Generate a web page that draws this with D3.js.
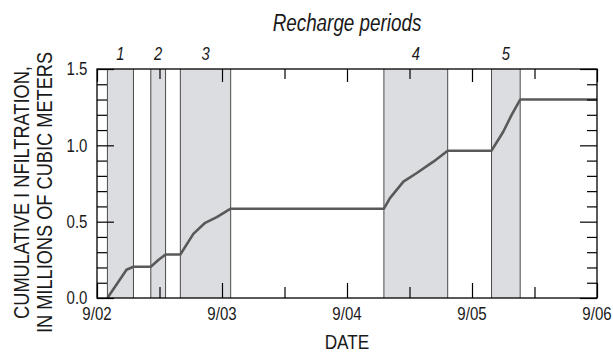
<!DOCTYPE html>
<html>
<head>
<meta charset="utf-8">
<script src="https://cdn.jsdelivr.net/npm/d3@7"></script>
<style>
  html, body { margin: 0; padding: 0; background: #fff; }
  svg { display: block; }
  text { font-family: 'Liberation Sans', Arial, sans-serif; fill: #1a1a1a; }
</style>
</head>
<body>
<svg id="chart" width="613" height="352"></svg>
<script>
// ---- data ----
const periodLabels = ["1", "2", "3", "4", "5"];
const periodStarts = ["2000-09-02 02:00", "2000-09-02 10:20", "2000-09-02 16:00", "2000-09-04 07:05", "2000-09-05 03:45"];
const periodEnds   = ["2000-09-02 07:00", "2000-09-02 13:10", "2000-09-03 01:40", "2000-09-04 19:20", "2000-09-05 09:15"];

const seriesTimes = [
  "2000-09-02 02:00", "2000-09-02 05:40", "2000-09-02 07:00",
  "2000-09-02 10:20", "2000-09-02 11:50", "2000-09-02 13:10",
  "2000-09-02 16:00", "2000-09-02 18:30", "2000-09-02 20:40", "2000-09-02 23:00", "2000-09-03 01:40",
  "2000-09-04 07:05", "2000-09-04 08:15", "2000-09-04 10:50", "2000-09-04 13:20", "2000-09-04 16:35", "2000-09-04 19:20",
  "2000-09-05 03:45", "2000-09-05 06:00", "2000-09-05 07:35", "2000-09-05 09:15",
  "2000-09-06 00:00"
];
const seriesValues = [
  0.00, 0.185, 0.205,
  0.205, 0.25, 0.285,
  0.285, 0.42, 0.49, 0.53, 0.585,
  0.585, 0.654, 0.762, 0.817, 0.893, 0.965,
  0.965, 1.089, 1.198, 1.30,
  1.30
];

const xDomain = ["2000-09-02 00:00", "2000-09-06 00:00"];
const yDomain = [0, 1.5];
const yMajorTicks = [0, 0.5, 1.0, 1.5];
const yTickLabels = ["0.0", "0.5", "1.0", "1.5"];

const title = "Recharge periods";
const xTitle = "DATE";
const yTitleLines = ["CUMULATIVE I NFILTRATION,", "IN MILLIONS OF CUBIC METERS"];

// ---- layout ----
const W = 613, H = 352;
const margin = { left: 97, right: 16, top: 69, bottom: 54 };
const iw = W - margin.left - margin.right;
const ih = H - margin.top - margin.bottom;

const parse = d3.timeParse("%Y-%m-%d %H:%M");
const svg = d3.select("#chart");
const g = svg.append("g").attr("transform", `translate(${margin.left},${margin.top})`);

const x = d3.scaleTime().domain(xDomain.map(parse)).range([0, iw]);
const y = d3.scaleLinear().domain(yDomain).range([ih, 0]);

const periods = periodLabels.map((l, i) => ({ label: l, s: parse(periodStarts[i]), e: parse(periodEnds[i]) }));
const series = seriesTimes.map((t, i) => ({ t: parse(t), v: seriesValues[i] }));

// helper: draw condensed text
function narrowText(parent, tx, ty, str, opts) {
  const rot = opts.rotate ? ` rotate(${opts.rotate})` : "";
  const sx = opts.narrow || 0.82;
  const t = parent.append("text")
    .attr("transform", `translate(${tx},${ty})${rot} scale(${sx},1)`)
    .attr("text-anchor", opts.anchor || "middle")
    .attr("font-size", opts.size)
    .text(str);
  if (opts.italic) t.attr("font-style", "italic");
  if (opts.dy) t.attr("dy", opts.dy);
  return t;
}

// shaded periods
g.selectAll("rect.period").data(periods).join("rect")
  .attr("class", "period")
  .attr("x", d => x(d.s)).attr("y", 0)
  .attr("width", d => x(d.e) - x(d.s)).attr("height", ih)
  .attr("fill", "#dcdde0");

// period borders
const borders = periods.flatMap(d => [d.s, d.e]);
g.selectAll("line.border").data(borders).join("line")
  .attr("class", "border")
  .attr("x1", d => x(d)).attr("x2", d => x(d))
  .attr("y1", 0).attr("y2", ih)
  .attr("stroke", "#4a4a4a").attr("stroke-width", 1);

// series line
g.append("path").datum(series)
  .attr("fill", "none").attr("stroke", "#595959").attr("stroke-width", 2.6)
  .attr("stroke-linejoin", "round")
  .attr("d", d3.line().x(d => x(d.t)).y(d => y(d.v)));

// axes (tick marks only; labels drawn condensed)
const dayTicks = d3.timeDay.range(x.domain()[0], d3.timeDay.offset(x.domain()[1], 1));
const halfDayTicks = d3.timeHour.every(12).range(x.domain()[0], x.domain()[1]).filter(d => d.getHours() === 12);
const fmt = d3.timeFormat("%-m/%d");

function styleAxis(sel) {
  sel.select(".domain").remove();
  sel.selectAll(".tick line").attr("stroke", "#000").attr("stroke-width", 1.2);
  sel.selectAll(".tick text").remove();
}

// bottom
g.append("g").attr("transform", `translate(0,${ih})`)
  .call(d3.axisBottom(x).tickValues(dayTicks).tickFormat("").tickSize(-15))
  .call(styleAxis);
g.append("g").attr("transform", `translate(0,${ih})`)
  .call(d3.axisBottom(x).tickValues(halfDayTicks).tickFormat("").tickSize(-11))
  .call(styleAxis);
// top
g.append("g")
  .call(d3.axisTop(x).tickValues(dayTicks).tickFormat("").tickSize(-13))
  .call(styleAxis);
g.append("g")
  .call(d3.axisTop(x).tickValues(halfDayTicks).tickFormat("").tickSize(-10))
  .call(styleAxis);

const yMinor = d3.range(1, 15).map(i => i / 10).filter(v => Math.abs(v * 2 - Math.round(v * 2)) > 1e-6);
// left
g.append("g")
  .call(d3.axisLeft(y).tickValues(yMajorTicks).tickFormat("").tickSize(-17))
  .call(styleAxis);
g.append("g")
  .call(d3.axisLeft(y).tickValues(yMinor).tickFormat("").tickSize(-10))
  .call(styleAxis);
// right
g.append("g").attr("transform", `translate(${iw},0)`)
  .call(d3.axisRight(y).tickValues(yMajorTicks).tickFormat("").tickSize(-17))
  .call(styleAxis);
g.append("g").attr("transform", `translate(${iw},0)`)
  .call(d3.axisRight(y).tickValues(yMinor).tickFormat("").tickSize(-10))
  .call(styleAxis);

// frame
g.append("rect").attr("x", 0).attr("y", 0).attr("width", iw).attr("height", ih)
  .attr("fill", "none").attr("stroke", "#000").attr("stroke-width", 1.3);

// tick labels
yMajorTicks.forEach((v, i) => {
  narrowText(g, -9.5, y(v), yTickLabels[i], { size: 17.5, anchor: "end", dy: "0.36em", narrow: 0.86 });
});
dayTicks.forEach(d => {
  narrowText(g, x(d), ih + 22, fmt(d), { size: 17.5, anchor: "middle", narrow: 0.86 });
});

// period labels
periods.forEach(d => {
  narrowText(g, (x(d.s) + x(d.e)) / 2, -9, d.label, { size: 18, italic: true });
});

// title
narrowText(svg, margin.left + iw / 2, 30.5, title, { size: 23, italic: true });

// x title
narrowText(svg, margin.left + iw / 2, 349, xTitle, { size: 21 });

// y title
yTitleLines.forEach((line, i) => {
  narrowText(svg, 28.5 + i * 23.3, 192.5, line, { size: 22.2, rotate: -90 });
});
</script>
</body>
</html>
